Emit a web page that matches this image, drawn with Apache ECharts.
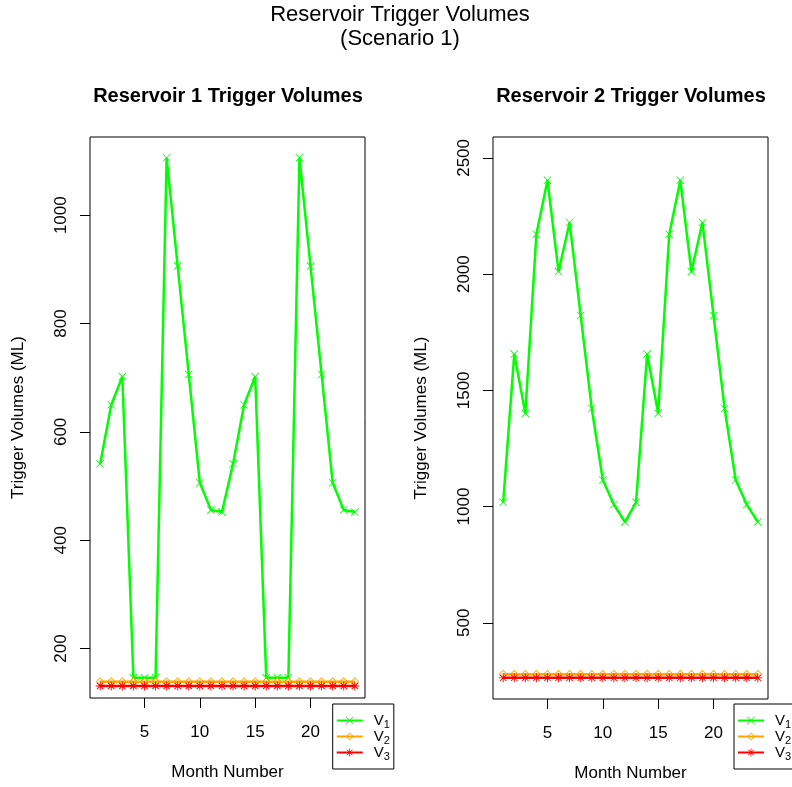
<!DOCTYPE html>
<html>
<head>
<meta charset="utf-8">
<script src="https://cdn.jsdelivr.net/npm/echarts@6/dist/echarts.min.js"></script>
<style>html,body{margin:0;padding:0;background:#fff}#c{width:792px;height:787px}</style>
</head>
<body>
<div id="c"></div>
<script>
const months = [1,2,3,4,5,6,7,8,9,10,11,12,13,14,15,16,17,18,19,20,21,22,23,24];
const res1V1 = [541,650,702,146,146,146,1106,906,706,506,456,452,541,650,702,146,146,146,1106,906,706,506,456,452];
const res1V2 = [139,139,139,139,139,139,139,139,139,139,139,139,139,139,139,139,139,139,139,139,139,139,139,139];
const res1V3 = [131,131,131,131,131,131,131,131,131,131,131,131,131,131,131,131,131,131,131,131,131,131,131,131];
const res2V1 = [1018,1656,1401,2172,2404,2011,2222,1822,1422,1114,1009,934,1018,1656,1401,2172,2404,2011,2222,1822,1422,1114,1009,934];
const res2V2 = [279,279,279,279,279,279,279,279,279,279,279,279,279,279,279,279,279,279,279,279,279,279,279,279];
const res2V3 = [263,263,263,263,263,263,263,263,263,263,263,263,263,263,263,263,263,263,263,263,263,263,263,263];
const xTicks = [5,10,15,20];
const yTicks1 = [200,400,600,800,1000];
const yTicks2 = [500,1000,1500,2000,2500];
const seriesNames = ['V1','V2','V3'];
const mainTitle = 'Reservoir Trigger Volumes';
const subTitle = '(Scenario 1)';
const panelTitles = ['Reservoir 1 Trigger Volumes','Reservoir 2 Trigger Volumes'];
const xName = 'Month Number';
const yName = 'Trigger Volumes (ML)';

const FONT = 'Liberation Sans, Arial, Helvetica, sans-serif';
const colors = ['#00FF00','#FFA500','#FF0000'];
const symX = 'path://M0.7,0 L10,9.3 L9.3,10 L0,0.7 Z M10,0.7 L0.7,10 L0,9.3 L9.3,0 Z';
const symD = 'path://M5,0 L10,5 L5,10 L0,5 Z M5,1.4 L1.4,5 L5,8.6 L8.6,5 Z';
const symA = 'path://M4.5,0 L5.5,0 L5.5,10 L4.5,10 Z M0,4.5 L10,4.5 L10,5.5 L0,5.5 Z M1.85,1.15 L8.85,8.15 L8.15,8.85 L1.15,1.85 Z M8.85,1.85 L1.85,8.85 L1.15,8.15 L8.15,1.15 Z';
const symbols = [symX, symD, symA];
const sizes = [8, 9, 9];

function pairs(ys){ return months.map((m,i)=>[m, ys[i]]); }

const grids = [
  {left:90, top:137, width:275, height:561, show:true, borderColor:'#000', borderWidth:1, backgroundColor:'transparent'},
  {left:493, top:137, width:275, height:562, show:true, borderColor:'#000', borderWidth:1, backgroundColor:'transparent'}
];
function xAxis(i){
  return {type:'value', gridIndex:i, min:0.08, max:24.92, splitLine:{show:false},
    axisLine:{show:false}, axisTick:{show:true, length:10, customValues:xTicks, lineStyle:{color:'#000'}},
    axisLabel:{customValues:xTicks, color:'#000', fontSize:17, fontFamily:FONT, margin:26, formatter:v=>String(v)},
    name:xName, nameLocation:'middle', nameGap:66, nameTextStyle:{color:'#000', fontSize:17, fontFamily:FONT}};
}
function yAxis(i, mn, mx, ticks){
  return {type:'value', gridIndex:i, min:mn, max:mx, splitLine:{show:false},
    axisLine:{show:false}, axisTick:{show:true, length:10, customValues:ticks, lineStyle:{color:'#000'}},
    axisLabel:{customValues:ticks, color:'#000', fontSize:17, fontFamily:FONT, rotate:90, margin:20, formatter:v=>String(v)},
    name:yName, nameLocation:'middle', nameGap:63, nameTextStyle:{color:'#000', fontSize:17, fontFamily:FONT}};
}
const series = [];
const data = [[res1V1,res1V2,res1V3],[res2V1,res2V2,res2V3]];
for (let g=0; g<2; g++){
  for (let k=0; k<3; k++){
    series.push({type:'line', name:seriesNames[k], xAxisIndex:g, yAxisIndex:g, data:pairs(data[g][k]),
      symbol:symbols[k], symbolSize:sizes[k], showAllSymbol:true, animation:false,
      lineStyle:{color:colors[k], width:2.5}, itemStyle:{color:colors[k]}, z:2+k});
  }
}
function legend(left){
  return {orient:'vertical', left:left, top:704, padding:[7,4,7,3], itemWidth:26, itemHeight:10, itemGap:-3,
    borderColor:'#000', borderWidth:1, backgroundColor:'#fff', data:seriesNames, selectedMode:false,
    formatter:n=>'{v|V}{s|'+n.slice(1)+'}',
    textStyle:{color:'#000', fontFamily:FONT, rich:{
      v:{fontSize:15, lineHeight:19, fontFamily:FONT, color:'#000', padding:[0,0,0,6]},
      s:{fontSize:11, lineHeight:11, padding:[8,0,0,0], fontFamily:FONT, color:'#000'}}}};
}
const option = {
  backgroundColor:'#fff',
  animation:false,
  grid:grids,
  xAxis:[xAxis(0), xAxis(1)],
  yAxis:[yAxis(0,108.8,1144.3,yTicks1), yAxis(1,172,2590,yTicks2)],
  legend:[legend(332.7), legend(734)],
  series:series,
  graphic:[
    {type:'text', x:400, y:15, style:{text:mainTitle, fontSize:22, fontFamily:FONT, fill:'#000', align:'center', verticalAlign:'middle'}},
    {type:'text', x:400, y:39, style:{text:subTitle, fontSize:22, fontFamily:FONT, fill:'#000', align:'center', verticalAlign:'middle'}},
    {type:'text', x:228, y:96, style:{text:panelTitles[0], fontSize:20, fontWeight:'bold', fontFamily:FONT, fill:'#000', align:'center', verticalAlign:'middle'}},
    {type:'text', x:631, y:96, style:{text:panelTitles[1], fontSize:20, fontWeight:'bold', fontFamily:FONT, fill:'#000', align:'center', verticalAlign:'middle'}}
  ]
};
const chart = echarts.init(document.getElementById('c'), null, {renderer:'canvas'});
chart.setOption(option);
</script>
</body>
</html>
